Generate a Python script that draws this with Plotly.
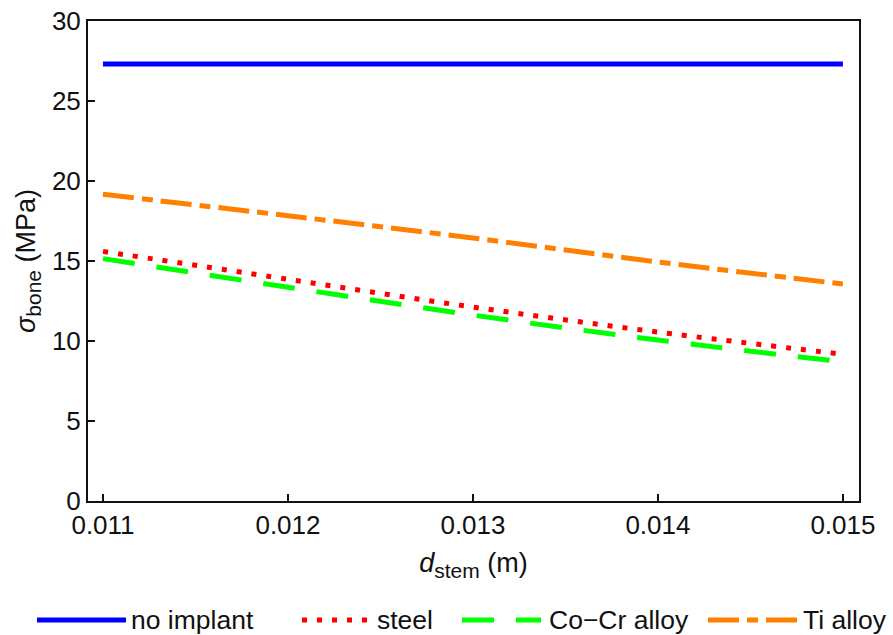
import plotly.graph_objects as go

d_stem = [0.011, 0.012, 0.013, 0.014, 0.015]
no_implant = [27.32, 27.32, 27.32, 27.32, 27.32]
steel = [15.6, 13.86, 12.12, 10.56, 9.17]
cocr = [15.15, 13.36, 11.62, 10.06, 8.7]
ti = [19.17, 17.83, 16.44, 14.94, 13.56]

x_ticks = [0.011, 0.012, 0.013, 0.014, 0.015]
x_ticktext = ["0.011", "0.012", "0.013", "0.014", "0.015"]
y_ticks = [0, 5, 10, 15, 20, 25, 30]

series = [
    ("no implant", no_implant, "#0000FF", "solid"),
    ("steel", steel, "#FF0000", "5px,10px"),
    ("Co\u2212Cr alloy", cocr, "#00FF00", "32px,22px"),
    ("Ti alloy", ti, "#FF8000", "31px,8px,11px,8px"),
]

FONT = "Liberation Sans, Arial, sans-serif"
TXT = "#111"
fig = go.Figure()
for name, vals, col, dash in series:
    fig.add_trace(go.Scatter(x=d_stem, y=vals, mode="lines", name=name,
                             line=dict(color=col, width=5, dash=dash, shape="spline"),
                             showlegend=False))

# manual legend (bottom)
L, W, B, H = 88, 771, 501, 480
def px(x):
    return (x - L) / W
ly = (B - 620) / H
legend_items = [(37, 126, 131), (302, 371, 377), (462, 541, 549), (708, 800, 803)]
for (x0, x1, xt), (name, vals, col, dash) in zip(legend_items, series):
    fig.add_shape(type="line", xref="paper", yref="paper", x0=px(x0), x1=px(x1), y0=ly, y1=ly,
                  line=dict(color=col, width=5, dash=dash))
    fig.add_annotation(xref="paper", yref="paper", x=px(xt), y=ly, text=name, showarrow=False,
                       xanchor="left", yanchor="middle", xshift=-2,
                       font=dict(size=26.5, color=TXT, family=FONT))

axis_common = dict(showline=True, linecolor=TXT, linewidth=2, mirror=True, ticks="inside",
                   ticklen=7, tickwidth=1.5, tickcolor=TXT, showgrid=False, zeroline=False,
                   tickfont=dict(size=26, color=TXT, family=FONT))
fig.update_xaxes(range=[0.010919, 0.015087], tickvals=x_ticks, ticktext=x_ticktext,
                 title=dict(text="<i>d</i><sub><span style='font-size:21px'>stem</span></sub> (m)",
                            font=dict(size=27, color=TXT, family=FONT), standoff=14),
                 **axis_common)
fig.update_yaxes(range=[0, 30], tickvals=y_ticks,
                 title=dict(text="<i>\u03c3</i><sub><span style='font-size:21px'>bone</span></sub> (MPa)",
                            font=dict(size=27, color=TXT, family=FONT), standoff=8),
                 **axis_common)
fig.update_layout(width=893, height=635, margin=dict(l=88, r=34, t=21, b=134, autoexpand=False),
                  plot_bgcolor="white", paper_bgcolor="white", showlegend=False,
                  font=dict(family=FONT))
fig.write_html("out.html", config={"displayModeBar": False},
               post_script="document.body.style.margin='0';document.body.style.overflow='hidden';")
